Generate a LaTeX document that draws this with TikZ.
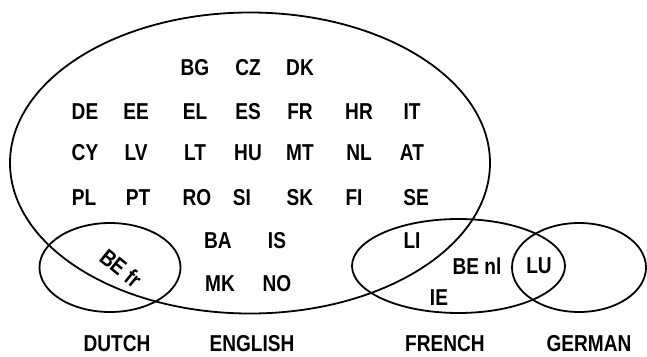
\documentclass[tikz,border=0pt]{standalone}
\usepackage{fontspec}
\setmainfont{Liberation Sans}[FakeStretch=0.83]
\usetikzlibrary{shapes.geometric}
\tikzset{
  set/.style={draw, ellipse, line width=1.8pt, inner sep=0pt, outer sep=0pt},
  cc/.style={font=\fontsize{23}{26}\selectfont\bfseries, inner sep=0pt},
}
\begin{document}
\begin{tikzpicture}[x=1pt,y=-1pt]
\useasboundingbox (0,0) rectangle (647,356);
% sets
\node[set, minimum width=480pt, minimum height=301pt] (english) at (250,163) {};
\node[set, minimum width=141pt, minimum height=89pt] (dutch) at (110,267.5) {};
\node[set, minimum width=213pt, minimum height=94pt] (french) at (458.5,266) {};
\node[set, minimum width=134pt, minimum height=89pt] (german) at (579,267.5) {};
% codes
\node[cc] (BG) at (195,68) {BG};
\node[cc] (CZ) at (248,68) {CZ};
\node[cc] (DK) at (300,68) {DK};
\node[cc] (DE) at (85,112) {DE};
\node[cc] (EE) at (136,112) {EE};
\node[cc] (EL) at (195,112) {EL};
\node[cc] (ES) at (248,112) {ES};
\node[cc] (FR) at (300,112) {FR};
\node[cc] (HR) at (359,112) {HR};
\node[cc] (IT) at (412,112) {IT};
\node[cc] (CY) at (85,153) {CY};
\node[cc] (LV) at (136,153) {LV};
\node[cc] (LT) at (195,153) {LT};
\node[cc] (HU) at (248,153) {HU};
\node[cc] (MT) at (300,153) {MT};
\node[cc] (NL) at (359,153) {NL};
\node[cc] (AT) at (412,153) {AT};
\node[cc] (PL) at (84,198) {PL};
\node[cc] (PT) at (138,198) {PT};
\node[cc] (RO) at (197,198) {RO};
\node[cc] (SI) at (242,198) {SI};
\node[cc] (SK) at (300,198) {SK};
\node[cc] (FI) at (354,198) {FI};
\node[cc] (SE) at (416,198) {SE};
\node[cc] (BA) at (218,241) {BA};
\node[cc] (IS) at (277,241) {IS};
\node[cc] (MK) at (220,284) {MK};
\node[cc] (NO) at (277,284) {NO};
\node[cc] (LI) at (412,241) {LI};
\node[cc] (BEfr) at (121,268) [rotate=-39] {BE fr};
\node[cc] (BEnl) at (477,266) {BE nl};
\node[cc] (LU) at (539,266) {LU};
\node[cc] (IE) at (439,298) {IE};
% set names
\node[cc] (ldutch) at (117,344) {DUTCH};
\node[cc] (lenglish) at (252,344) {ENGLISH};
\node[cc] (lfrench) at (445,344) {FRENCH};
\node[cc] (lgerman) at (589,344) {GERMAN};
\end{tikzpicture}
\end{document}
